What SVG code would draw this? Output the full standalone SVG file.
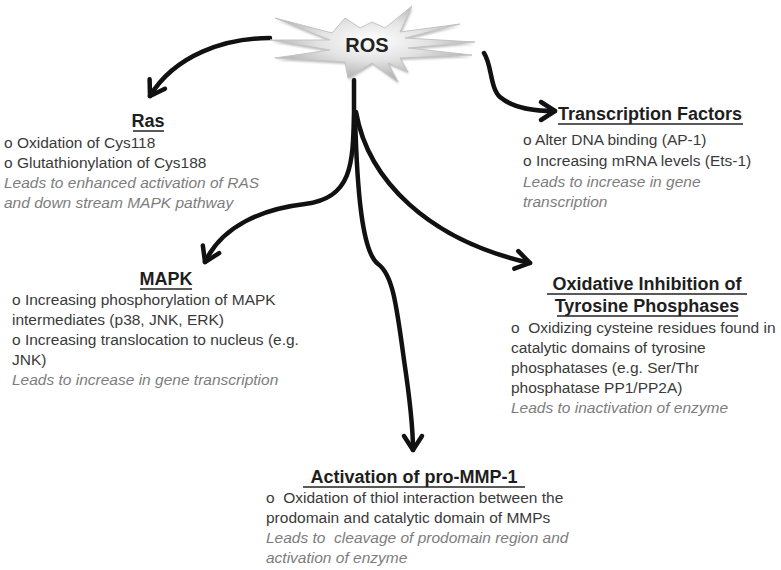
<svg xmlns="http://www.w3.org/2000/svg" width="781" height="570" viewBox="0 0 781 570">
<style>
.t{font-family:"Liberation Sans",Arial,sans-serif;}
.h{font-size:18px;font-weight:bold;fill:#1e1e1e;}
.b{font-size:15.5px;fill:#3a3a3a;}
.i{font-size:15.5px;font-style:italic;fill:#7d7d7d;}
.ul{stroke:#222;stroke-width:1.5;}
.arr{fill:none;stroke:#111;stroke-width:4.5;stroke-linecap:round;marker-end:url(#chev);}
</style>
<defs>
<marker id="chev" markerUnits="userSpaceOnUse" markerWidth="24" markerHeight="24" refX="15" refY="10" orient="auto" overflow="visible">
<path d="M1 1 L15 10 L1 19" fill="none" stroke="#111" stroke-width="4.5" stroke-linecap="round" stroke-linejoin="round"/>
</marker>
<radialGradient id="rosg" cx="0.5" cy="0.45" r="0.6">
<stop offset="0" stop-color="#ffffff"/>
<stop offset="0.45" stop-color="#e2e2e2"/>
<stop offset="1" stop-color="#a0a0a0"/>
</radialGradient>
<filter id="soft" x="-20%" y="-30%" width="140%" height="160%">
<feGaussianBlur stdDeviation="1.2"/>
</filter>
</defs>
<rect width="781" height="570" fill="#ffffff"/>

<g id="connectors">
<path class="arr" d="M270 38 C225 38 175 55 150 96"/>
<path class="arr" d="M484 53 C492 65 490 88 500 97 C514 109 535 111 555 111"/>
<path class="arr" d="M354 80 L354 112 C353 165 352 198 305 204 C262 209 222 226 205 262"/>
<path class="arr" d="M356 112 C368 180 428 240 530 263"/>
<path class="arr" d="M355 115 C357 190 362 252 378 264 C392 274 396 300 404 360 C410 400 413 425 413 450"/>
</g>

<g id="ros">
<polygon points="275,18 332,33 345,18 360,28 372,22 385,28 412,6 400,32 460,24 405,38 475,42 408,48 472,55 400,58 408,72 388,63 398,82 372,63 348,78 345,62 275,58 330,50 270,40 330,40" fill="#bdbdbd" filter="url(#soft)" transform="translate(1,2)"/>
<polygon points="275,18 332,33 345,18 360,28 372,22 385,28 412,6 400,32 460,24 405,38 475,42 408,48 472,55 400,58 408,72 388,63 398,82 372,63 348,78 345,62 275,58 330,50 270,40 330,40" fill="url(#rosg)" stroke="#c4c4c4" stroke-width="1"/>
<text class="t" x="367" y="52" font-size="20" font-weight="bold" fill="#222" text-anchor="middle">ROS</text>
</g>

<g id="ras">
<text class="t h" x="148" y="127" text-anchor="middle">Ras</text>
<line class="ul" x1="133" y1="131" x2="164" y2="131"/>
<text class="t b" x="4" y="148">o Oxidation of Cys118</text>
<text class="t b" x="4" y="168">o Glutathionylation of Cys188</text>
<text class="t i" x="4" y="188">Leads to enhanced activation of RAS</text>
<text class="t i" x="4" y="208">and down stream MAPK pathway</text>
</g>

<g id="transcription">
<text class="t h" x="650" y="120" text-anchor="middle">Transcription Factors</text>
<line class="ul" x1="558" y1="124" x2="743" y2="124"/>
<text class="t b" x="523" y="145">o Alter DNA binding (AP-1)</text>
<text class="t b" x="523" y="166">o Increasing mRNA levels (Ets-1)</text>
<text class="t i" x="523" y="187">Leads to increase in gene</text>
<text class="t i" x="523" y="207">transcription</text>
</g>

<g id="mapk">
<text class="t h" x="166" y="285" text-anchor="middle">MAPK</text>
<line class="ul" x1="140" y1="289" x2="192" y2="289"/>
<text class="t b" x="12" y="305">o Increasing phosphorylation of MAPK</text>
<text class="t b" x="12" y="325">intermediates (p38, JNK, ERK)</text>
<text class="t b" x="12" y="345">o Increasing translocation to nucleus (e.g.</text>
<text class="t b" x="12" y="365">JNK)</text>
<text class="t i" x="12" y="385">Leads to increase in gene transcription</text>
</g>

<g id="oxidative">
<text class="t h" x="647" y="290" text-anchor="middle" font-size="18.5">Oxidative Inhibition of</text>
<line class="ul" x1="547" y1="294" x2="747" y2="294"/>
<text class="t h" x="647" y="312" text-anchor="middle" font-size="18.5">Tyrosine Phosphases</text>
<line class="ul" x1="557" y1="316" x2="738" y2="316"/>
<text class="t b" x="511" y="333" xml:space="preserve">o  Oxidizing cysteine residues found in</text>
<text class="t b" x="511" y="353">catalytic domains of tyrosine</text>
<text class="t b" x="511" y="373">phosphatases (e.g. Ser/Thr</text>
<text class="t b" x="511" y="393">phosphatase PP1/PP2A)</text>
<text class="t i" x="511" y="413">Leads to inactivation of enzyme</text>
</g>

<g id="mmp">
<text class="t h" x="414" y="483" text-anchor="middle" font-size="19">Activation of pro-MMP-1</text>
<line class="ul" x1="303" y1="487" x2="525" y2="487"/>
<text class="t b" x="266" y="503" xml:space="preserve">o  Oxidation of thiol interaction between the</text>
<text class="t b" x="266" y="523">prodomain and catalytic domain of MMPs</text>
<text class="t i" x="266" y="543" xml:space="preserve">Leads to  cleavage of prodomain region and</text>
<text class="t i" x="266" y="563">activation of enzyme</text>
</g>
</svg>
